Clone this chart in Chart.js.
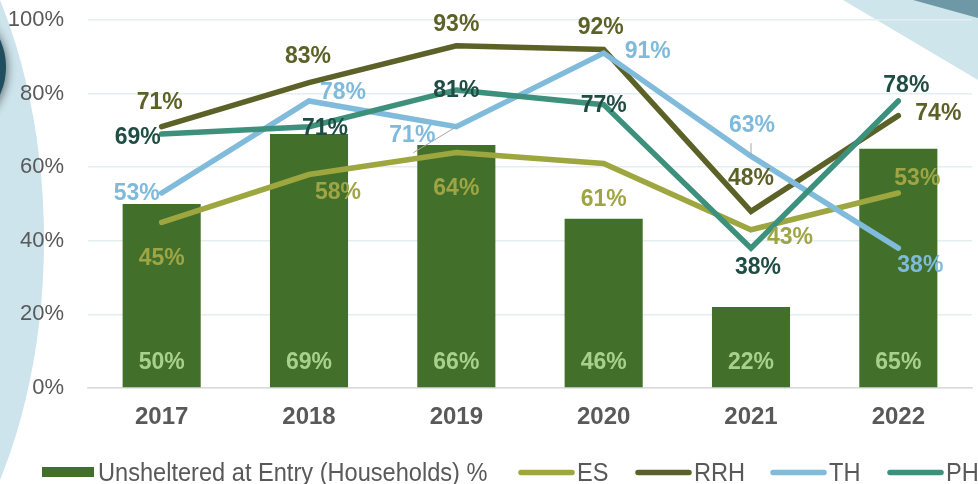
<!DOCTYPE html>
<html><head><meta charset="utf-8">
<style>html,body{margin:0;padding:0;background:#fff;overflow:hidden}#wrap{width:978px;height:484px;position:relative}</style>
<script src="https://cdn.jsdelivr.net/npm/chart.js@4.4.0/dist/chart.umd.min.js"></script>
</head><body><div id="wrap"><canvas id="c" width="978" height="484"></canvas></div>
<script>
// ---- data ----
const categories = ['2017','2018','2019','2020','2021','2022'];
const unsheltered = [50,69,66,46,22,65];
const es  = [45,58,64,61,43,53];
const rrh = [71,83,93,92,48,74];
const th  = [53,78,71,91,63,38];
const ph  = [69,71,81,77,38,78];
const yTicks = [0,20,40,60,80,100];
const seriesNames = ['Unsheltered at Entry (Households) %','ES','RRH','TH','PH'];

// ---- styling / layout (not data) ----
const colBar = '#42702b';
const lineCols  = ['#9ea63f','#5c6128','#80bbdb','#3d907b'];
const labelCols = ['#a8d08d','#9fa544','#5c6128','#7fbadb','#1f4d44'];
const labelOffsets = {
  1: [[0,36],[29,18],[0,36],[0,36],[39,7],[19,-15]],
  2: [[-2,-25],[-1,-26],[0,-22],[-3,-22],[0,-33],[40,-3]],
  3: [[-25,0],[34,-9],[-44,8],[44,-2],[1,-31],[22,17]],
  4: [[-24,3],[16,1],[0,0],[0,1],[7,19],[8,-16]]
};
const leaders = [[3,2,0,0,-43,26],[3,4,0,-1,0,-13]];
const legendStarts = [42,518,635,770,887];
const FONT = '"Liberation Sans", Arial, sans-serif';
const VS = 1.08; // vertical text stretch
const LW = 5.5;

function stretchedText(ctx, txt, x, y){
  ctx.save(); ctx.translate(x,y); ctx.scale(1,VS); ctx.fillText(txt,0,0); ctx.restore();
}

const bgPlugin = {
  id:'bg',
  beforeDraw(chart){
    const ctx = chart.ctx;
    ctx.save();
    ctx.fillStyle='#fff'; ctx.fillRect(0,0,chart.width,chart.height);
    ctx.fillStyle='#cde4ec';
    ctx.beginPath(); ctx.ellipse(-200,240,244,419,0,0,Math.PI*2); ctx.fill();
    ctx.save();
    ctx.shadowColor='rgba(0,0,0,0.45)'; ctx.shadowBlur=8; ctx.shadowOffsetX=2; ctx.shadowOffsetY=2;
    ctx.fillStyle='#1f4e5e';
    ctx.beginPath(); ctx.arc(-60,67,66,0,Math.PI*2); ctx.fill();
    ctx.restore();
    ctx.fillStyle='#cfe5ec';
    ctx.beginPath(); ctx.moveTo(843,0); ctx.lineTo(978,80); ctx.lineTo(978,0); ctx.closePath(); ctx.fill();
    ctx.fillStyle='#6f98a6';
    ctx.beginPath(); ctx.moveTo(913,0); ctx.lineTo(978,18); ctx.lineTo(978,0); ctx.closePath(); ctx.fill();
    ctx.restore();
  }
};

const labelPlugin = {
  id:'labels',
  afterDatasetsDraw(chart){
    const ctx = chart.ctx;
    ctx.save();
    ctx.font = 'bold 23px '+FONT;
    ctx.textAlign='center'; ctx.textBaseline='middle';
    ctx.strokeStyle='#a6a6a6'; ctx.lineWidth=1;
    leaders.forEach(([d,i,x1,y1,x2,y2])=>{
      const p = chart.getDatasetMeta(d).data[i];
      ctx.beginPath(); ctx.moveTo(p.x+x1,p.y+y1); ctx.lineTo(p.x+x2,p.y+y2); ctx.stroke();
    });
    chart.data.datasets.forEach((ds,d)=>{
      const meta = chart.getDatasetMeta(d);
      ctx.fillStyle = labelCols[d];
      meta.data.forEach((el,i)=>{
        const txt = ds.data[i] + '%';
        if (d===0){
          stretchedText(ctx, txt, el.x, el.base - 25.5);
        } else {
          const o = labelOffsets[d][i];
          stretchedText(ctx, txt, el.x + o[0], el.y + o[1]);
        }
      });
    });
    ctx.restore();
  },
  afterDraw(chart){
    const ctx = chart.ctx;
    ctx.save();
    ctx.font = '23.6px '+FONT;
    ctx.textBaseline='middle'; ctx.textAlign='left';
    seriesNames.forEach((name,k)=>{
      const x = legendStarts[k];
      let tx;
      if (k===0){
        ctx.fillStyle=colBar; ctx.fillRect(x,467,52,10); tx = x+56;
      } else {
        ctx.strokeStyle=lineCols[k-1]; ctx.lineWidth=LW; ctx.lineCap='round';
        ctx.beginPath(); ctx.moveTo(x+3,472.5); ctx.lineTo(x+54,472.5); ctx.stroke();
        tx = x+59;
      }
      ctx.fillStyle='#595959';
      stretchedText(ctx, name, tx, 474);
    });
    ctx.restore();
  }
};

const lineData = [es,rrh,th,ph];
const datasets = [{
  type:'bar', label:seriesNames[0], data:unsheltered, backgroundColor:colBar,
  barPercentage:0.53, categoryPercentage:1, order:5
}];
lineData.forEach((arr,k)=>{
  datasets.push({
    type:'line', label:seriesNames[k+1], data:arr, borderColor:lineCols[k], backgroundColor:lineCols[k],
    borderWidth:LW, pointRadius:0, pointHoverRadius:0, tension:0, fill:false,
    borderCapStyle:'round', borderJoinStyle:'miter', order:4-k
  });
});

new Chart(document.getElementById('c'), {
  type:'bar',
  data:{ labels:categories, datasets },
  plugins:[bgPlugin,labelPlugin],
  options:{
    responsive:false, animation:false, devicePixelRatio:1,
    layout:{ padding:{left:0,right:6,top:20,bottom:0} },
    plugins:{ legend:{display:false}, tooltip:{enabled:false} },
    scales:{
      x:{
        offset:true,
        grid:{display:false, drawTicks:false},
        border:{display:true, color:'#d9d9d9', width:1.5},
        ticks:{ font:{family:FONT, size:24, weight:'bold'}, color:'#595959', padding:15 },
        afterFit(s){ s.height = 96; s.paddingLeft = 0; s.paddingRight = 0; }
      },
      y:{
        min:0, max:100,
        grid:{ color:'#e4eeee', lineWidth:1.5, drawTicks:false },
        border:{display:false},
        ticks:{ font:{family:FONT, size:22}, color:'#595959', padding:24, callback:v=>v+'%' },
        afterBuildTicks(s){ s.ticks = yTicks.map(v=>({value:v})); },
        afterFit(s){ s.width = 88; s.paddingTop = 0; s.paddingBottom = 0; }
      }
    }
  }
});
</script></body></html>
